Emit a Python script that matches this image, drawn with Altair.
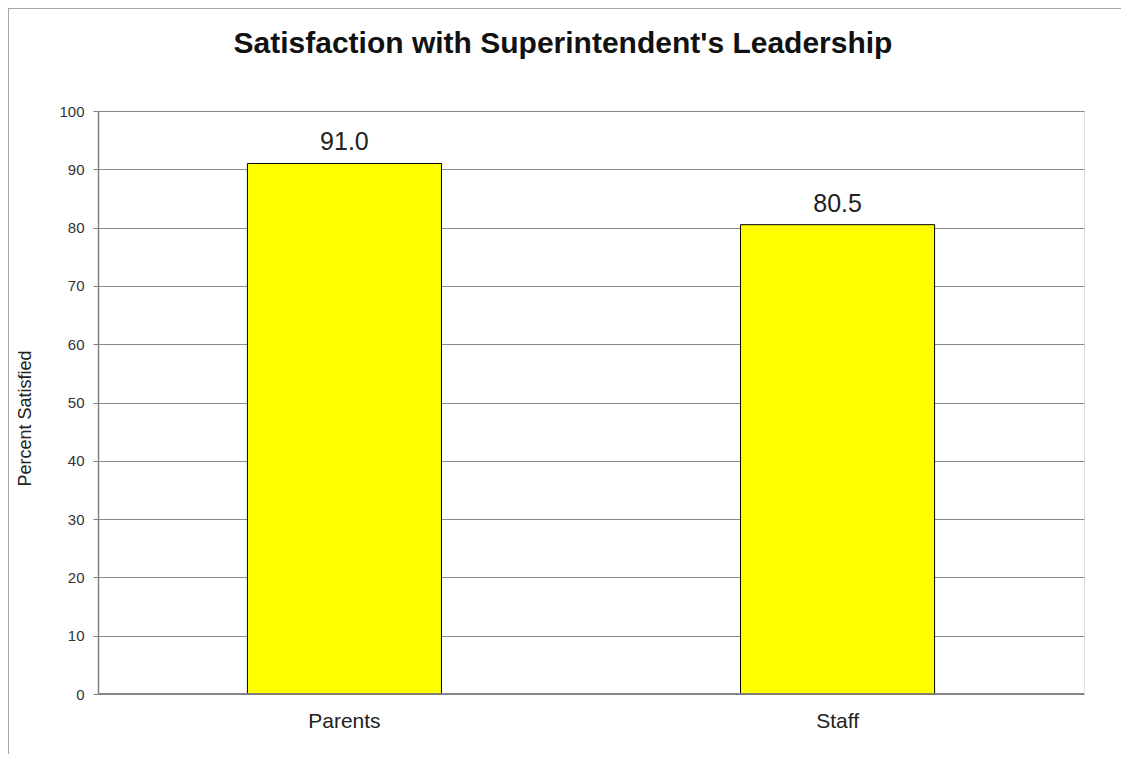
import altair as alt
import pandas as pd

categories = ["Parents", "Staff"]
values = [91.0, 80.5]
y_ticks = [0, 10, 20, 30, 40, 50, 60, 70, 80, 90, 100]
title_text = ["Satisfaction with Superintendent's Leadership"]

df = pd.DataFrame({"group": categories, "pct": values})
df["label"] = [f"{v:.1f}" for v in values]
title_df = pd.DataFrame({"t": title_text})

FONT = "Liberation Sans"
W, H = 986, 583

x_enc = alt.X(
    "group:N",
    sort=categories,
    scale=alt.Scale(paddingInner=0.6065, paddingOuter=0.303),
    axis=alt.Axis(
        title=None, labelAngle=0, ticks=False, domain=False,
        labelFontSize=21, labelColor="#222", labelFont=FONT, labelPadding=16,
        grid=False,
    ),
)
y_enc = alt.Y(
    "pct:Q",
    scale=alt.Scale(domain=[0, 100], nice=False),
    axis=alt.Axis(
        title="Percent Satisfied", values=y_ticks, tickSize=5, tickColor="#808080",
        labelFontSize=15, labelColor="#333", labelFont=FONT, labelPadding=9,
        titleFontSize=18, titleFont=FONT, titleFontWeight="normal", titleColor="#222",
        titleX=-73, titleY=307, titleAngle=270, titleBaseline="middle", titleAlign="center",
        domainColor="#808080", domainWidth=1.5,
        grid=True, gridColor="#8a8a8a", gridWidth=1,
    ),
)

bars = alt.Chart(df).mark_bar(color="#FFFF00", stroke="#000000", strokeWidth=1).encode(
    x=x_enc, y=y_enc
)
labels = alt.Chart(df).mark_text(
    baseline="alphabetic", dy=-13, fontSize=25, font=FONT, color="#222"
).encode(x=alt.X("group:N", sort=categories), y="pct:Q", text="label:N")

title = alt.Chart(title_df).mark_text(
    baseline="alphabetic", align="center", fontSize=30, font=FONT,
    fontWeight="bold", color="#111"
).encode(x=alt.value(465), y=alt.value(-58), text="t:N")

frame_top = alt.Chart(df).mark_rule(color="#a0a0a0", strokeWidth=1.5).encode(
    x=alt.value(-90), x2=alt.value(1031), y=alt.value(-103)
)
frame_left = alt.Chart(df).mark_rule(color="#a0a0a0", strokeWidth=1.5).encode(
    x=alt.value(-90), y=alt.value(-103), y2=alt.value(643)
)
bottom_line = alt.Chart(df).mark_rule(color="#808080", strokeWidth=1.5).encode(
    x=alt.value(0), x2=alt.value(W), y=alt.value(H)
)

chart = alt.layer(frame_top, frame_left, bars, labels, bottom_line, title).properties(
    width=W, height=H,
    autosize=alt.AutoSizeParams(type="none"),
    padding={"left": 90, "top": 103, "right": 37, "bottom": 60},
).configure_view(stroke="#a8a8a8", strokeWidth=1.5).configure(background="white")

chart.save("out.html", embed_options={"renderer": "svg", "actions": False})
